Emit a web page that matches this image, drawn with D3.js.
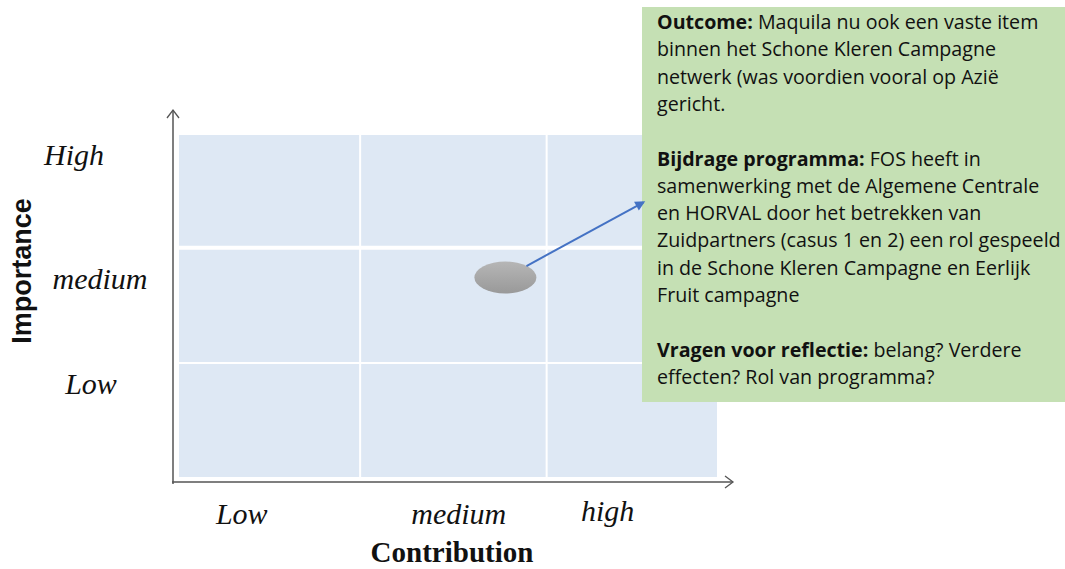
<!DOCTYPE html>
<html>
<head>
<meta charset="utf-8">
<script src="https://cdn.jsdelivr.net/npm/d3@7"></script>
<style>
  body { margin: 0; background: #fff; }
  svg { display: block; }
</style>
</head>
<body>
<div id="chart"></div>
<script>
// grid is 3x3 cells, both axes run 0..3
var xCats = ["Low", "medium", "high"];
var xCatPos = [0.35, 1.56, 2.39];
var yCats = ["Low", "medium", "High"];
var yCatPos = [0.81, 1.73, 2.82];
var gridX = [1.01, 2.05];
var gridY = [1.0, 2.01];

var point = {contribution: 1.82, importance: 1.75};
var arrowTarget = {contribution: 2.59, importance: 2.41};

var note = [
  [{b: "Outcome: "}, {t: "Maquila nu ook een vaste item"}],
  [{t: "binnen het Schone Kleren Campagne"}],
  [{t: "netwerk (was voordien vooral op Azië"}],
  [{t: "gericht."}],
  [],
  [{b: "Bijdrage programma: "}, {t: "FOS heeft in"}],
  [{t: "samenwerking met de Algemene Centrale"}],
  [{t: "en HORVAL door het betrekken van"}],
  [{t: "Zuidpartners (casus 1 en 2) een rol gespeeld"}],
  [{t: "in de Schone Kleren Campagne en Eerlijk"}],
  [{t: "Fruit campagne"}],
  [],
  [{b: "Vragen voor reflectie: "}, {t: "belang? Verdere"}],
  [{t: "effecten? Rol van programma?"}]
];

var W = 1065, H = 569;
var svg = d3.select("#chart").append("svg")
  .attr("width", W).attr("height", H);

var x = d3.scaleLinear().domain([0, 3]).range([179, 717]);
var y = d3.scaleLinear().domain([0, 3]).range([477, 135]);

var defs = svg.append("defs");
var grad = defs.append("linearGradient").attr("id", "dot")
  .attr("x1", 0).attr("y1", 0).attr("x2", 0).attr("y2", 1);
grad.append("stop").attr("offset", "0%").attr("stop-color", "#b6b6b6");
grad.append("stop").attr("offset", "100%").attr("stop-color", "#999999");

// blue field
svg.append("rect")
  .attr("x", x(0)).attr("y", y(3))
  .attr("width", x(3) - x(0)).attr("height", y(0) - y(3))
  .attr("fill", "#dee8f4");

// white grid lines
svg.selectAll("line.vgrid").data(gridX).enter().append("line")
  .attr("class", "vgrid")
  .attr("x1", function(d){ return x(d); }).attr("x2", function(d){ return x(d); })
  .attr("y1", y(3)).attr("y2", y(0))
  .attr("stroke", "#fff").attr("stroke-width", 2);

svg.selectAll("line.hgrid").data(gridY).enter().append("line")
  .attr("class", "hgrid")
  .attr("x1", x(0)).attr("x2", x(3))
  .attr("y1", function(d){ return y(d); }).attr("y2", function(d){ return y(d); })
  .attr("stroke", "#fff").attr("stroke-width", function(d, i){ return i === 1 ? 4 : 2; });

// axes with open arrow heads
var axisColor = "#555";
svg.append("line")
  .attr("x1", 173).attr("y1", 484).attr("x2", 173).attr("y2", 110)
  .attr("stroke", axisColor).attr("stroke-width", 1.5);
svg.append("path")
  .attr("d", "M167,118 L173,110 L179,118")
  .attr("fill", "none").attr("stroke", axisColor).attr("stroke-width", 1.3);
svg.append("line")
  .attr("x1", 172).attr("y1", 482).attr("x2", 733).attr("y2", 482)
  .attr("stroke", axisColor).attr("stroke-width", 1.5);
svg.append("path")
  .attr("d", "M725,476 L733,482 L725,488")
  .attr("fill", "none").attr("stroke", axisColor).attr("stroke-width", 1.3);

// category labels
var serif = "'Liberation Serif', 'Times New Roman', serif";
var yDx = [-88, -79, -105];
svg.selectAll("text.ycat").data(yCats).enter().append("text")
  .attr("class", "ycat")
  .attr("x", function(d, i){ return x(0) + yDx[i]; })
  .attr("y", function(d, i){ return y(yCatPos[i]) + 9; })
  .attr("text-anchor", "middle")
  .style("font-family", serif).style("font-style", "italic").style("font-size", "30px")
  .attr("fill", "#111")
  .text(function(d){ return d; });

svg.selectAll("text.xcat").data(xCats).enter().append("text")
  .attr("class", "xcat")
  .attr("x", function(d, i){ return x(xCatPos[i]); })
  .attr("y", function(d, i){ return i === 2 ? 521 : 524; })
  .attr("text-anchor", "middle")
  .style("font-family", serif).style("font-style", "italic").style("font-size", "30px")
  .attr("fill", "#111")
  .text(function(d){ return d; });

svg.append("text")
  .attr("x", 452).attr("y", 562)
  .attr("text-anchor", "middle")
  .style("font-family", serif).style("font-weight", "bold").style("font-size", "29px")
  .attr("fill", "#111")
  .text("Contribution");

svg.append("text")
  .attr("transform", "translate(31,271) rotate(-90)")
  .attr("text-anchor", "middle")
  .style("font-family", "'Liberation Sans', Arial, sans-serif").style("font-weight", "bold").style("font-size", "27px")
  .attr("fill", "#111")
  .text("Importance");

// note box
svg.append("rect")
  .attr("x", 642).attr("y", 7).attr("width", 423).attr("height", 395)
  .attr("fill", "#c5e0b4");

// the point and arrow
var px = x(point.contribution), py = y(point.importance);
svg.append("ellipse")
  .attr("cx", px).attr("cy", py).attr("rx", 31).attr("ry", 16)
  .attr("fill", "url(#dot)");

defs.append("marker").attr("id", "head")
  .attr("viewBox", "0 0 10 10").attr("refX", 8).attr("refY", 5)
  .attr("markerWidth", 6).attr("markerHeight", 5).attr("orient", "auto")
  .append("path").attr("d", "M0,0 L10,5 L0,10 z").attr("fill", "#4472c4");

var tx = x(arrowTarget.contribution), ty = y(arrowTarget.importance);
var ang = Math.atan2(ty - py, tx - px);
svg.append("line")
  .attr("x1", px + 24 * Math.cos(ang)).attr("y1", py + 24 * Math.sin(ang))
  .attr("x2", tx).attr("y2", ty)
  .attr("stroke", "#4472c4").attr("stroke-width", 2)
  .attr("marker-end", "url(#head)");

// note text, scaled so the longest line fits the box like the original
var noteFont = "'Open Sans', 'Noto Sans', sans-serif";
var noteG = svg.append("g");
var lines = noteG.selectAll("text").data(note).enter().append("text")
  .attr("x", 657)
  .attr("y", function(d, i){ return 29 + i * 27.3; })
  .style("font-family", noteFont).style("font-size", "18px")
  .attr("fill", "#111");
lines.selectAll("tspan").data(function(d){ return d; }).enter().append("tspan")
  .style("font-weight", function(d){ return d.b ? "bold" : "normal"; })
  .text(function(d){ return d.b || d.t; });

var longest = d3.max(lines.nodes(), function(n){ return n.getComputedTextLength(); });
var fs = 18 * 404 / longest;
lines.style("font-size", fs + "px");
</script>
</body>
</html>
